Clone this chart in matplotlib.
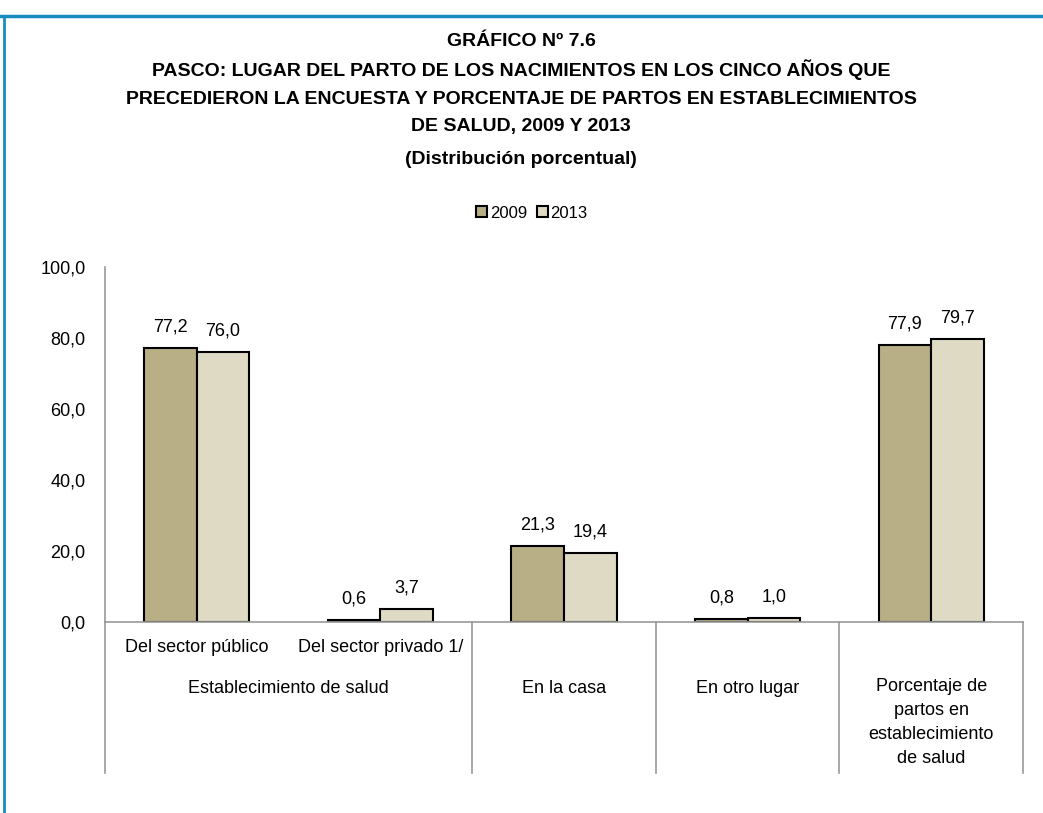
import numpy as np
import matplotlib.pyplot as plt
import matplotlib.transforms as mtransforms
from matplotlib.lines import Line2D

# Data
categorias = ["Del sector público", "Del sector privado 1/", "", "", ""]
grupos = ["Establecimiento de salud", "En la casa", "En otro lugar",
          "Porcentaje de\npartos en\nestablecimiento\nde salud"]
grupo_centros = [0.5, 2, 3, 4]
v2009 = [77.2, 0.6, 21.3, 0.8, 77.9]
v2013 = [76.0, 3.7, 19.4, 1.0, 79.7]
anios = ["2009", "2013"]
colores = ["#B8AF87", "#DEDAC4"]

plt.rcParams['font.family'] = ['Liberation Sans Narrow', 'Liberation Sans', 'DejaVu Sans']

fig = plt.figure(figsize=(10.43, 8.13), dpi=100)
ax = fig.add_axes([105 / 1043, (813 - 622) / 813, (1023 - 105) / 1043, 355 / 813])

x = np.arange(len(v2009))
w = 0.286
b1 = ax.bar(x - w / 2, v2009, w, color=colores[0], edgecolor="black", linewidth=1.5, label=anios[0])
b2 = ax.bar(x + w / 2, v2013, w, color=colores[1], edgecolor="black", linewidth=1.5, label=anios[1])

for bars in (b1, b2):
    for r in bars:
        h = r.get_height()
        ax.annotate(f"{h:.1f}".replace(".", ","), (r.get_x() + r.get_width() / 2, h),
                    xytext=(0, 9), textcoords="offset points", ha="center", va="bottom",
                    fontsize=13)

ax.set_xlim(-0.5, 4.5)
ax.set_ylim(0, 100)
ax.set_yticks(np.arange(0, 101, 20))
ax.set_yticklabels([f"{v:.1f}".replace(".", ",") for v in np.arange(0, 101, 20)], fontsize=13)
ax.tick_params(axis="y", length=0, pad=14)
ax.set_xticks([])
for s in ["top", "right"]:
    ax.spines[s].set_visible(False)
for s in ["left", "bottom"]:
    ax.spines[s].set_color("#999999")
    ax.spines[s].set_linewidth(1.2)

# category labels (two levels)
trans = mtransforms.blended_transform_factory(ax.transData, ax.transAxes)
for i, c in enumerate(categorias):
    if c:
        ax.text(i, -25 / 355, c, transform=trans, ha="center", va="center", fontsize=13)
for xc, g in zip(grupo_centros, grupos):
    if "\n" in g:
        ax.text(xc, -56 / 355, g, transform=trans, ha="center", va="top", fontsize=13,
                linespacing=1.55)
    else:
        ax.text(xc, -66 / 355, g, transform=trans, ha="center", va="center", fontsize=13)
for xs in [-0.5, 1.5, 2.5, 3.5, 4.5]:
    ax.add_line(Line2D([xs, xs], [0, -151 / 355], transform=trans, color="#999999",
                       linewidth=1.2, clip_on=False))

# titles
titulo = ["GRÁFICO Nº 7.6",
          "PASCO: LUGAR DEL PARTO DE LOS NACIMIENTOS EN LOS CINCO AÑOS QUE",
          "PRECEDIERON LA ENCUESTA Y PORCENTAJE DE PARTOS EN ESTABLECIMIENTOS",
          "DE SALUD, 2009 Y 2013",
          "(Distribución porcentual)"]
ys = [41, 70, 99, 127, 160]
for t, yy in zip(titulo, ys):
    fig.text(521 / 1043, 1 - yy / 813, t, ha="center", va="center", fontsize=14,
             fontweight="bold")

fig.legend(loc="center", bbox_to_anchor=(532 / 1043, 1 - 213 / 813), ncol=2, frameon=False,
           fontsize=12, handlelength=0.65, handleheight=0.65, handletextpad=0.15,
           columnspacing=0.6)

# blue frame
fig.add_artist(Line2D([0, 1], [1 - 16 / 813, 1 - 16 / 813], transform=fig.transFigure,
                      color="#1A8DC0", linewidth=2.5))
fig.add_artist(Line2D([4 / 1043, 4 / 1043], [0, 1 - 16 / 813], transform=fig.transFigure,
                      color="#1A8DC0", linewidth=2))

fig.savefig("out.png", dpi=100)
